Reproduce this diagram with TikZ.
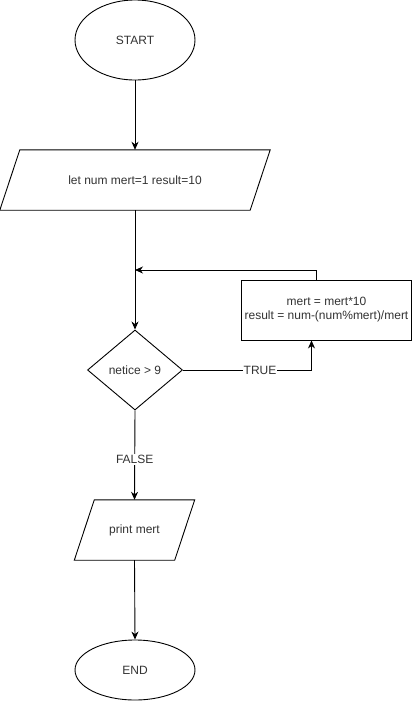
\documentclass[tikz,border=0pt]{standalone}
\usepackage{fontspec}
\setmainfont{Liberation Sans}
\usetikzlibrary{arrows.meta,shapes.geometric,calc}
\begin{document}
\begin{tikzpicture}[x=1pt,y=-1pt,
  every node/.style={font=\fontsize{12}{14}\selectfont,text=black!80,inner sep=0pt},
  ln/.style={line width=0.9pt,draw=black},
  arr/.style={ln,-{Stealth[length=8pt,width=7pt,inset=2.5pt]}},
  terminal/.style={ellipse,ln,minimum width=120pt},
  iobox/.style={rectangle,draw=none,minimum height=60pt},
  procbox/.style={rectangle,ln,minimum width=170pt,minimum height=60pt,align=center},
  decision/.style={diamond,ln,minimum width=95pt,minimum height=80pt},
  lbl/.style={fill=white,inner sep=1pt}]
\useasboundingbox[fill=white] (0,0) rectangle (412,702);

% terminals
\node[terminal,minimum height=80pt] (start) at (135,40) {START};
\node[terminal,minimum height=60pt] (end) at (135,670) {END};

% input / output parallelograms (drawn from their bounding boxes)
\node[iobox,minimum width=270pt] (init) at (135,180) {let num mert=1 result=10};
\draw[ln] ($(init.north west)+(20pt,0)$) -- (init.north east)
  -- ($(init.south east)-(20pt,0)$) -- (init.south west) -- cycle;
\node[iobox,minimum width=120pt] (print) at (134.5,530) {print mert};
\draw[ln] ($(print.north west)+(20pt,0)$) -- (print.north east)
  -- ($(print.south east)-(20pt,0)$) -- (print.south west) -- cycle;

% decision and loop body
\node[decision] (cond) at (135,370) {netice > 9};
\node[procbox] (body) at (326.5,310) {mert = mert*10\\result = num-(num\%mert)/mert};

% loop joint on the main line
\coordinate (join) at (135,270);
\coordinate (bodyout) at ($(body.north)+(-10pt,0)$);
\coordinate (bodyin) at ($(body.south)+(-15pt,0)$);

% connectors
\draw[arr] (start) -- (init);
\draw[arr] (init.south) -- (cond.north);
\draw[arr] (bodyout) |- (join);
\draw[arr] (cond.east) -| node[lbl,pos=0.3]{TRUE} (bodyin);
\draw[arr] (cond.south) -- node[lbl,pos=0.55]{FALSE} (print.north);
\draw[arr] (print.south) -- (end.north);
\end{tikzpicture}
\end{document}
